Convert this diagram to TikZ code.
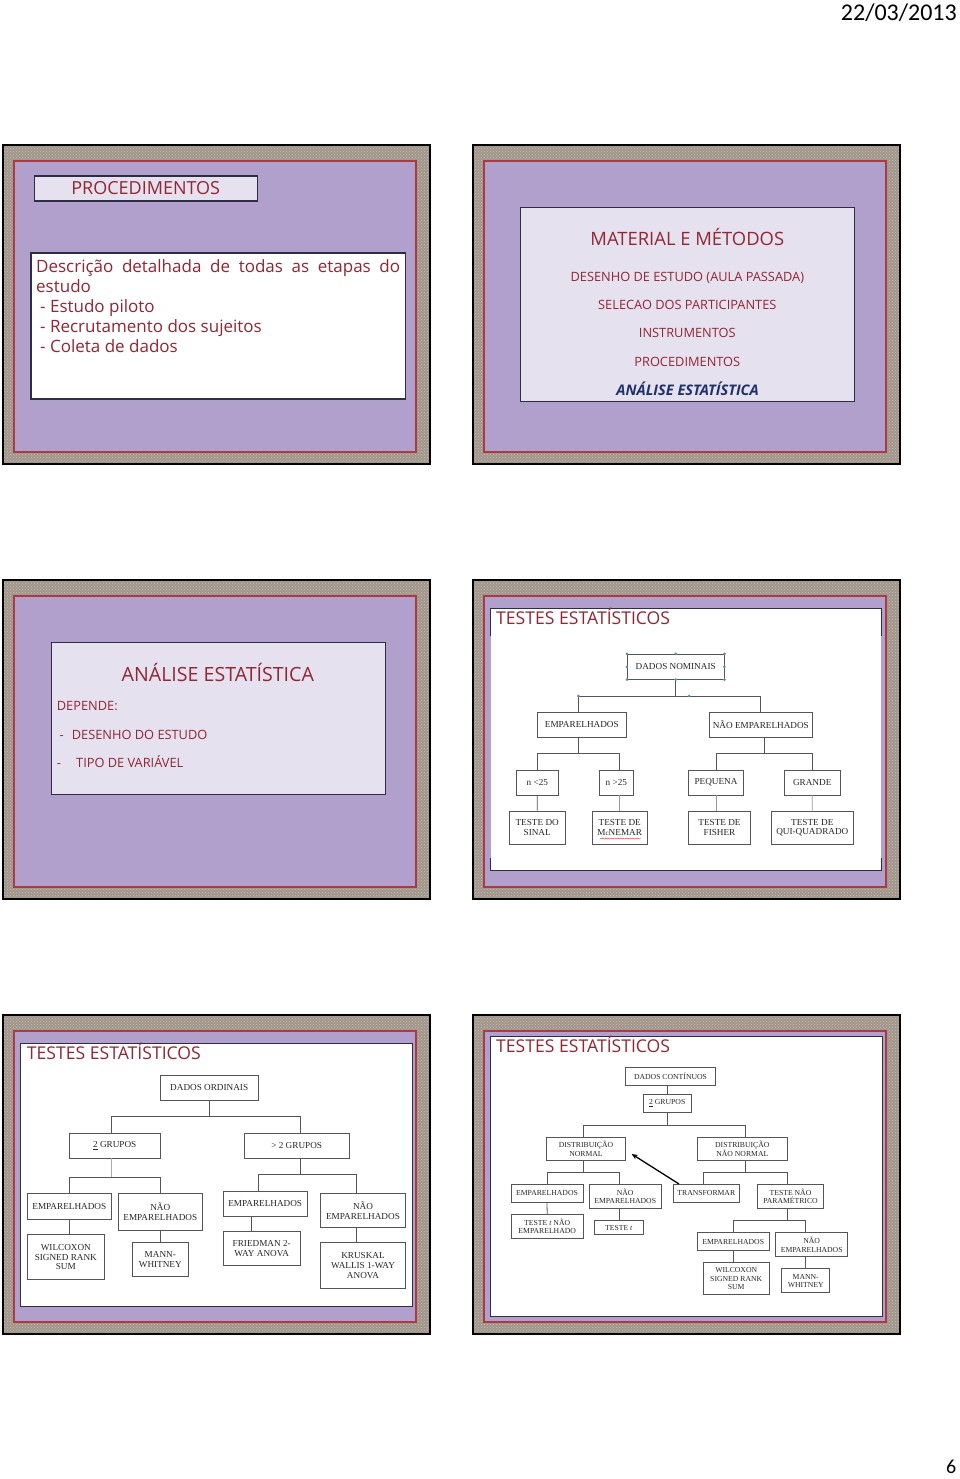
\documentclass[tikz,border=0pt]{standalone}
\usepackage{fontspec}
\setmainfont{Liberation Serif}
\newfontfamily\comic{Open Sans}
\newfontfamily\calib{Carlito}
\usetikzlibrary{arrows.meta,patterns,decorations.pathmorphing}
\definecolor{granite}{RGB}{160,150,140}
\definecolor{granlight}{RGB}{200,192,182}
\definecolor{slidered}{RGB}{172,58,68}
\definecolor{purp}{RGB}{178,160,204}
\definecolor{lav}{RGB}{230,225,238}
\definecolor{dred}{RGB}{145,38,52}
\definecolor{dblue}{RGB}{30,50,105}
\definecolor{frame}{RGB}{45,45,70}
\definecolor{boxgray}{RGB}{85,85,85}
\definecolor{handle}{RGB}{110,135,170}
\newcommand\myslide[2]{%
  \fill[granite] (#1,#2) rectangle ++(427,319);
  \fill[pattern=crosshatch dots, pattern color=granlight] (#1,#2) rectangle ++(427,319);
  \draw[black, line width=1.3pt] (#1,#2) rectangle ++(427,319);
  \filldraw[fill=purp, draw=slidered, line width=2.6pt] ({#1+11},{#2+16}) rectangle ({#1+413},{#2+307});
}
\tikzset{
  tb/.style={draw=boxgray, line width=0.75pt, fill=white, inner sep=0pt, align=center,
    font=\fontsize{9.2}{9.8}\selectfont, text=black!85},
  tc/.style={tb, font=\fontsize{7.7}{8.3}\selectfont},
  ln/.style={draw=boxgray, line width=0.8pt},
  ct/.style={font=\comic\fontsize{12.8}{12.8}\selectfont, text=dred, inner sep=0pt},
  ttl/.style={font=\comic\fontsize{17.6}{17.6}\selectfont, text=dred, inner sep=0pt, anchor=base west},
  body/.style={font=\comic\fontsize{17}{17}\selectfont, text=dred, inner sep=0pt, anchor=base west},
  hnd/.style={fill=handle},
}
\begin{document}
\begin{tikzpicture}[x=1pt,y=-1pt]
\useasboundingbox (0,0) rectangle (960,1479);
\fill[white] (0,0) rectangle (960,1479);
\node[anchor=base east, inner sep=0pt, font=\calib\fontsize{24}{24}\selectfont] (date) at (957,20.5) {22/03/2013};
\node[anchor=base east, inner sep=0pt, font=\calib\fontsize{20}{20}\selectfont] (pg) at (956.5,1473.5) {6};

% ---------------- slide 1
\myslide{3}{145}
\node[draw=frame, line width=1.1pt, fill=lav, minimum width=222.7pt, minimum height=25pt, inner sep=0pt,
  font=\comic\fontsize{18}{18}\selectfont, text=dred] (p1) at (145.7,188.5) {PROCEDIMENTOS};
\node[draw=frame, line width=1.1pt, fill=white, minimum width=374.7pt, minimum height=146pt] (w1) at (218.3,326) {};
\node[body] (l1) at (36,272) {\makebox[364pt][s]{Descrição detalhada de todas as etapas do}};
\node[body] (l2) at (36,292) {estudo};
\node[body] (l3) at (40,312) {- Estudo piloto};
\node[body] (l4) at (40,332) {- Recrutamento dos sujeitos};
\node[body] (l5) at (40,352) {- Coleta de dados};

% ---------------- slide 2
\myslide{473}{145}
\node[draw=frame, line width=1.1pt, fill=lav, minimum width=333.6pt, minimum height=194pt] (b2) at (687.5,304.7) {};
\node[ct, anchor=base, font=\comic\fontsize{18.4}{18.4}\selectfont] (m0) at (687.3,246) {MATERIAL E MÉTODOS};
\node[ct, anchor=base] (m1) at (687.3,281) {DESENHO DE ESTUDO (AULA PASSADA)};
\node[ct, anchor=base] (m2) at (687.3,309.3) {SELECAO DOS PARTICIPANTES};
\node[ct, anchor=base] (m3) at (687.3,337.7) {INSTRUMENTOS};
\node[ct, anchor=base] (m4) at (687.3,366.3) {PROCEDIMENTOS};
\node[ct, anchor=base, text=dblue, font=\comic\bfseries\itshape\fontsize{14.6}{14.6}\selectfont] (m5) at (687.6,395) {ANÁLISE ESTATÍSTICA};

% ---------------- slide 3
\myslide{3}{580}
\node[draw=frame, line width=1.1pt, fill=lav, minimum width=334pt, minimum height=151.6pt] (b3) at (218.7,718.5) {};
\node[ct, anchor=base, font=\comic\fontsize{19.6}{19.6}\selectfont] (a0) at (217.8,681) {ANÁLISE ESTATÍSTICA};
\node[ct, anchor=base west] (a1) at (56.7,710.7) {DEPENDE:};
\node[ct, anchor=base west] (a2d) at (59.3,739.3) {-};
\node[ct, anchor=base west] (a2) at (71.7,739.3) {DESENHO DO ESTUDO};
\node[ct, anchor=base west] (a3d) at (56.7,767.7) {-};
\node[ct, anchor=base west] (a3) at (76,767.7) {TIPO DE VARIÁVEL};

% ---------------- slide 4
\myslide{473}{580}
\fill[white] (490.7,608) rectangle (881,870.7);
\draw[frame, line width=1pt] (490.7,636) -- (490.7,608) -- (881,608) -- (881,636);
\draw[frame, line width=1pt] (490.7,858) -- (490.7,870.7) -- (881,870.7) -- (881,858);
\node[ttl] (t4) at (496,624.3) {TESTES ESTATÍSTICOS};
\node[tb, minimum width=96.7pt, minimum height=25pt] (dn) at (675.7,666.8) {DADOS NOMINAIS};
\node[tb, minimum width=89pt, minimum height=25.3pt] (em) at (581.8,724.7) {EMPARELHADOS};
\node[tb, minimum width=103pt, minimum height=25.3pt] (nem) at (760.8,724.7) {NÃO EMPARELHADOS};
\node[tb, minimum width=42pt, minimum height=25pt] (na) at (537.3,782.5) {n <25};
\node[tb, minimum width=34.7pt, minimum height=25pt] (nb) at (616.3,782.5) {n >25};
\node[tb, minimum width=55.4pt, minimum height=25pt] (pq) at (716,782.5) {PEQUENA};
\node[tb, minimum width=55.7pt, minimum height=25pt] (gr) at (812.2,782.5) {GRANDE};
\node[tb, minimum width=55.7pt, minimum height=33.3pt] (ts) at (537.2,827.7) {TESTE DO\\SINAL};
\node[tb, minimum width=55.3pt, minimum height=33.3pt] (tm) at (619.7,827.7) {TESTE DE\\M{\fontsize{7}{7}\selectfont c}NEMAR};
\node[tb, minimum width=62.4pt, minimum height=33.3pt] (tf) at (719.5,827.7) {TESTE DE\\FISHER};
\node[tb, minimum width=82.7pt, minimum height=33.3pt] (tq) at (812.3,827.7) {TESTE DE\\QUI-QUADRADO};
\coordinate (j4a) at (0,696);
\coordinate (j4b) at (0,753.3);
\draw[ln] (dn.south) -- (dn.south |- j4a);
\draw[ln] ([xshift=-3.5pt]em.north) -- ([xshift=-3.5pt]em.north |- j4a) -- (nem.north |- j4a) -- (nem.north);
\draw[ln] ([xshift=-3.5pt]em.south) -- ([xshift=-3.5pt]em.south |- j4b);
\draw[ln] (na.north) -- (na.north |- j4b) -- ([xshift=3.4pt]nb.north |- j4b) -- ([xshift=3.4pt]nb.north);
\draw[ln] ([xshift=3.2pt]nem.south) -- ([xshift=3.2pt]nem.south |- j4b);
\draw[ln] (pq.north) -- (pq.north |- j4b) -- (gr.north |- j4b) -- (gr.north);
\draw[ln] (na.south) -- (ts.north);
\draw[ln, draw=boxgray!60] ([xshift=3.4pt]nb.south) -- (tm.north);
\draw[ln, draw=boxgray!60] (pq.south) -- (pq.south |- tf.north);
\draw[ln, draw=boxgray!60] (gr.south) -- (tq.north);
\draw[red!75, line width=0.45pt, decorate, decoration={snake, amplitude=0.5pt, segment length=2.5pt}] (600,838.6) -- (640.7,838.6);
\foreach \a in {north west,north,north east,east,south east,south,south west,west}
  \fill[hnd] (dn.\a) circle (1.5pt);
\fill[hnd] ([xshift=-3.5pt]em.north |- j4a) circle (1.5pt);
\fill[hnd] (689,696) circle (1.5pt);

% ---------------- slide 5
\myslide{3}{1015}
\filldraw[fill=white, draw=frame, line width=1pt] (20.7,1043.3) rectangle (412,1306.7);
\node[ttl] (t5) at (26.7,1059.3) {TESTES ESTATÍSTICOS};
\node[tb, minimum width=97.7pt, minimum height=25pt] (do) at (209.2,1087.8) {DADOS ORDINAIS};
\node[tb, minimum width=90.7pt, minimum height=24.7pt] (g2) at (114.7,1145.7) {\underline{2} GRUPOS};
\node[tb, minimum width=105.3pt, minimum height=24.7pt] (gg) at (296.7,1145.7) {> 2 GRUPOS};
\node[tb, minimum width=84pt, minimum height=25.7pt] (e1) at (69.3,1206.2) {EMPARELHADOS};
\node[tb, minimum width=84pt, minimum height=36.7pt] (ne1) at (160.3,1211.7) {NÃO\\EMPARELHADOS};
\node[tb, minimum width=77pt, minimum height=44.6pt] (w5) at (65.8,1257) {WILCOXON\\SIGNED RANK\\SUM};
\node[tb, minimum width=56pt, minimum height=34pt] (mw5) at (160.3,1259.7) {MANN-\\WHITNEY};
\node[tb, minimum width=83.7pt, minimum height=25pt] (e2) at (265.2,1203.5) {EMPARELHADOS};
\node[tb, minimum width=84.6pt, minimum height=34pt] (ne2) at (363,1210.3) {NÃO\\EMPARELHADOS};
\node[tb, minimum width=76.7pt, minimum height=33.6pt] (fr) at (261.7,1248.5) {FRIEDMAN 2-\\WAY ANOVA};
\node[tb, minimum width=84.6pt, minimum height=45.6pt] (kw) at (363,1265.5) {KRUSKAL\\WALLIS 1-WAY\\ANOVA};
\coordinate (j5a) at (0,1116.7);
\coordinate (j5b) at (0,1177.3);
\coordinate (j5c) at (0,1174);
\draw[ln] (do.south) -- (do.south |- j5a);
\draw[ln] ([xshift=-3.4pt]g2.north) -- ([xshift=-3.4pt]g2.north |- j5a) -- ([xshift=3.6pt]gg.north |- j5a) -- ([xshift=3.6pt]gg.north);
\draw[ln, draw=boxgray!50] ([xshift=-3.4pt]g2.south) -- ([xshift=-3.4pt]g2.south |- j5b);
\draw[ln] (e1.north) -- (e1.north |- j5b) -- (ne1.north |- j5b) -- (ne1.north);
\draw[ln] ([xshift=3.6pt]gg.south) -- ([xshift=3.6pt]gg.south |- j5c);
\draw[ln] ([xshift=-6.9pt]e2.north) -- ([xshift=-6.9pt]e2.north |- j5c) -- ([xshift=-7pt]ne2.north |- j5c) -- ([xshift=-7pt]ne2.north);
\draw[ln] (e1.south) -- (e1.south |- w5.north);
\draw[ln] (ne1.south) -- (mw5.north);
\draw[ln] ([xshift=-10.7pt]fr.north |- e2.south) -- ([xshift=-10.7pt]fr.north);
\draw[ln] ([xshift=-7pt]ne2.south) -- ([xshift=-7pt]kw.north);

% ---------------- slide 6
\myslide{473}{1015}
\filldraw[fill=white, draw=frame, line width=1pt] (490.7,1036) rectangle (882,1316.7);
\node[ttl] (t6) at (496,1052.7) {TESTES ESTATÍSTICOS};
\node[tc, minimum width=90.4pt, minimum height=18pt] (dc) at (670.5,1076.3) {DADOS CONTÍNUOS};
\node[tc, minimum width=48.3pt, minimum height=18pt] (g6) at (667.2,1103.3) {\underline{2} GRUPOS};
\node[tc, minimum width=78.6pt, minimum height=23pt] (dn6) at (586,1148.8) {DISTRIBUIÇÃO\\NORMAL};
\node[tc, minimum width=90pt, minimum height=23pt] (dnn) at (742.3,1148.8) {DISTRIBUIÇÃO\\NÃO NORMAL};
\node[tc, minimum width=72pt, minimum height=18pt] (e6) at (547,1193.3) {EMPARELHADOS};
\node[tc, minimum width=72.3pt, minimum height=24.4pt] (ne6) at (625.2,1196.5) {NÃO\\EMPARELHADOS};
\node[tc, minimum width=72.3pt, minimum height=24.4pt] (tt) at (547.2,1226.5) {TESTE \textit{t} NÃO\\EMPARELHADO};
\node[tc, minimum width=49pt, minimum height=14pt] (t6n) at (618.8,1227.7) {TESTE \textit{t}};
\node[tc, minimum width=66pt, minimum height=18pt] (tr) at (706.3,1193.3) {TRANSFORMAR};
\node[tc, minimum width=66.4pt, minimum height=24.4pt] (tnp) at (790.5,1196.5) {TESTE NÃO\\PARAMÉTRICO};
\node[tc, minimum width=71.7pt, minimum height=17.6pt] (e7) at (733.2,1241.5) {EMPARELHADOS};
\node[tc, minimum width=72pt, minimum height=24pt] (ne7) at (811.7,1244.7) {NÃO\\EMPARELHADOS};
\node[tc, minimum width=65.7pt, minimum height=32pt] (wx) at (736.2,1278.7) {WILCOXON\\SIGNED RANK\\SUM};
\node[tc, minimum width=48pt, minimum height=24pt] (mw) at (805.7,1280.7) {MANN-\\WHITNEY};
\coordinate (j6a) at (0,1125);
\coordinate (j6b) at (0,1172.3);
\coordinate (j6c) at (0,1220.7);
\draw[ln] (dc.south -| g6.north) -- (g6.north);
\draw[ln] (g6.south) -- (g6.south |- j6a);
\draw[ln] ([xshift=-2.3pt]dn6.north) -- ([xshift=-2.3pt]dn6.north |- j6a) -- ([xshift=3.4pt]dnn.north |- j6a) -- ([xshift=3.4pt]dnn.north);
\draw[ln] ([xshift=-2.3pt]dn6.south) -- ([xshift=-2.3pt]dn6.south |- j6b);
\draw[ln] (e6.north) -- (e6.north |- j6b) -- ([xshift=-5.9pt]ne6.north |- j6b) -- ([xshift=-5.9pt]ne6.north);
\draw[ln] ([xshift=3.4pt]dnn.south) -- ([xshift=3.4pt]dnn.south |- j6b);
\draw[ln] ([xshift=-2.6pt]tr.north) -- ([xshift=-2.6pt]tr.north |- j6b) -- ([xshift=-3.2pt]tnp.north |- j6b) -- ([xshift=-3.2pt]tnp.north);
\draw[ln] (e6.south) -- (tt.north);
\draw[ln] ([xshift=-5.9pt]ne6.south) -- ([xshift=-5.9pt]ne6.south |- t6n.north);
\draw[ln] ([xshift=-3.2pt]tnp.south) -- ([xshift=-3.2pt]tnp.south |- j6c);
\draw[ln] (e7.north) -- (e7.north |- j6c) -- ([xshift=-6.4pt]ne7.north |- j6c) -- ([xshift=-6.4pt]ne7.north);
\draw[ln] (e7.south) -- (e7.south |- wx.north);
\draw[ln] ([xshift=-6.4pt]ne7.south) -- ([xshift=-6.4pt]ne7.south |- mw.north);
\draw[-{Stealth[length=6pt,width=5pt]}, line width=1.3pt] ([xshift=6pt]tr.north west) -- ([xshift=6pt,yshift=-5.2pt]dn6.east);
\end{tikzpicture}
\end{document}
